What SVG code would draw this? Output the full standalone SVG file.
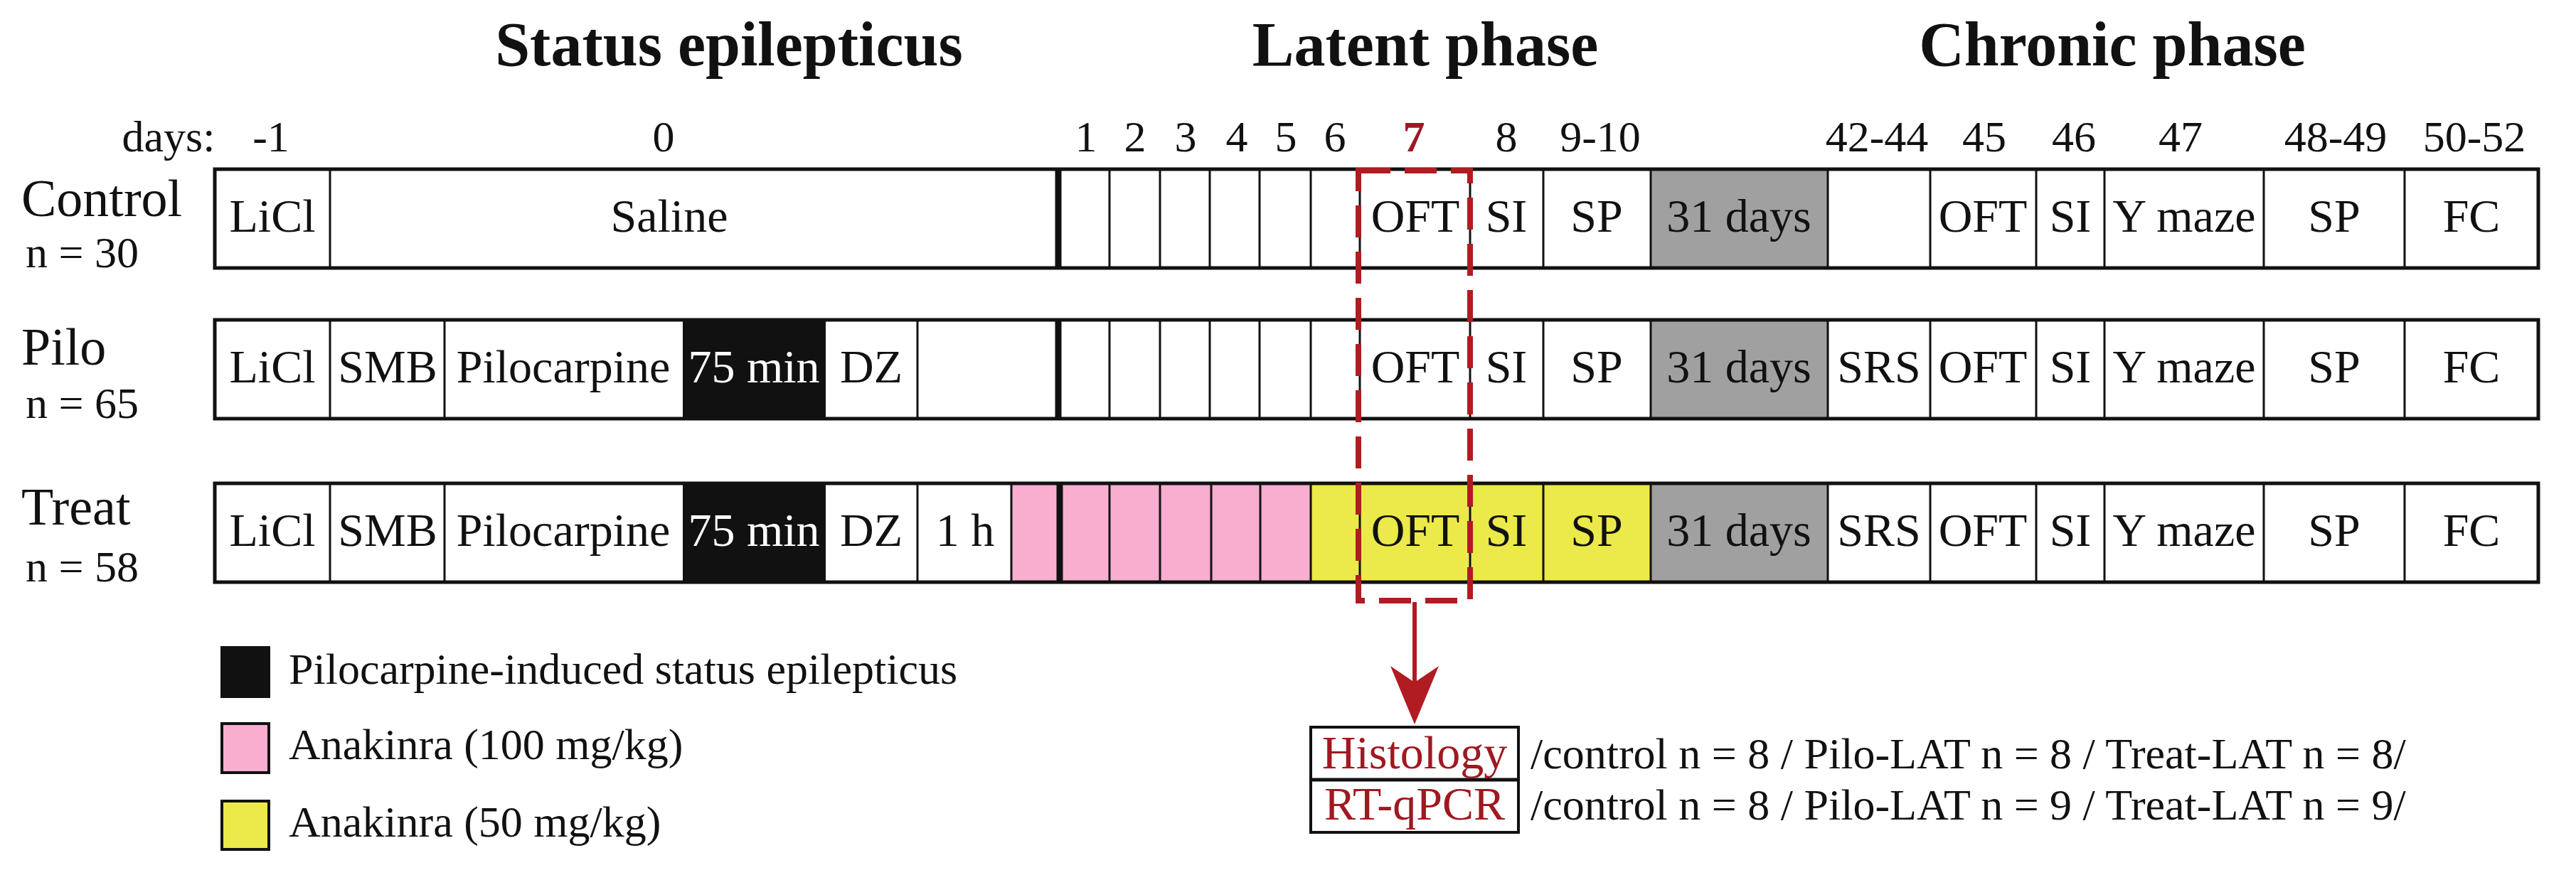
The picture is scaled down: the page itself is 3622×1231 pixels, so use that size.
<svg xmlns="http://www.w3.org/2000/svg" width="3622" height="1231" viewBox="0 0 3622 1231">
<style>
text{font-family:"Liberation Serif","Times New Roman",serif;fill:#111}
.t{font-size:88px;font-weight:bold;text-anchor:middle}
.d{font-size:62px;text-anchor:middle}
.g{font-size:74px}
.n{font-size:62px}
.c{font-size:66px;text-anchor:middle}
.w{fill:#fff}
.cell{stroke:#111;stroke-width:3}
.out{fill:none;stroke:#111;stroke-width:5}
.thick{stroke:#111;stroke-width:9}
.red{fill:#a01820}
.lg{font-size:62px}
</style>
<g id="titles">
<text class="t" x="1025" y="92">Status epilepticus</text>
<text class="t" x="2004" y="92">Latent phase</text>
<text class="t" x="2970" y="92">Chronic phase</text>
</g>
<g id="days">
<text class="d" x="237" y="213">days:</text>
<text class="d" x="381" y="213">-1</text>
<text class="d" x="933" y="213">0</text>
<text class="d" x="1527" y="213">1</text>
<text class="d" x="1596" y="213">2</text>
<text class="d" x="1667" y="213">3</text>
<text class="d" x="1739" y="213">4</text>
<text class="d" x="1808" y="213">5</text>
<text class="d" x="1877" y="213">6</text>
<text class="d" x="1988" y="213" style="fill:#a01820;font-weight:bold">7</text>
<text class="d" x="2118" y="213">8</text>
<text class="d" x="2250" y="213">9-10</text>
<text class="d" x="2639" y="213">42-44</text>
<text class="d" x="2790" y="213">45</text>
<text class="d" x="2916" y="213">46</text>
<text class="d" x="3066" y="213">47</text>
<text class="d" x="3284" y="213">48-49</text>
<text class="d" x="3479" y="213">50-52</text>
</g>
<g id="control">
<text class="g" x="30" y="304">Control</text>
<text class="n" x="36" y="376">n = 30</text>
<rect x="302" y="238" width="3267" height="139" fill="#fff"/>
<rect x="2321" y="238" width="249" height="139" fill="#a0a0a0"/>
<g class="cell">
<line x1="464" y1="238" x2="464" y2="377"/>
<line x1="1560" y1="238" x2="1560" y2="377"/><line x1="1631" y1="238" x2="1631" y2="377"/><line x1="1701" y1="238" x2="1701" y2="377"/><line x1="1771" y1="238" x2="1771" y2="377"/><line x1="1843" y1="238" x2="1843" y2="377"/><line x1="1912" y1="238" x2="1912" y2="377"/>
<line x1="2067" y1="238" x2="2067" y2="377"/><line x1="2170" y1="238" x2="2170" y2="377"/><line x1="2321" y1="238" x2="2321" y2="377"/><line x1="2570" y1="238" x2="2570" y2="377"/><line x1="2714" y1="238" x2="2714" y2="377"/><line x1="2863" y1="238" x2="2863" y2="377"/><line x1="2959" y1="238" x2="2959" y2="377"/><line x1="3183" y1="238" x2="3183" y2="377"/><line x1="3381" y1="238" x2="3381" y2="377"/>
</g>
<line class="thick" x1="1488" y1="238" x2="1488" y2="377"/>
<rect class="out" x="302" y="238" width="3267" height="139"/>
<text class="c" x="383" y="326">LiCl</text>
<text class="c" x="941" y="326">Saline</text>
<text class="c" x="1990" y="326">OFT</text>
<text class="c" x="2118" y="326">SI</text>
<text class="c" x="2245" y="326">SP</text>
<text class="c" x="2445" y="326">31 days</text>
<text class="c" x="2788" y="326">OFT</text>
<text class="c" x="2911" y="326">SI</text>
<text class="c" x="3071" y="326">Y maze</text>
<text class="c" x="3282" y="326">SP</text>
<text class="c" x="3475" y="326">FC</text>
</g>
<g id="pilo">
<text class="g" x="30" y="513">Pilo</text>
<text class="n" x="36" y="588">n = 65</text>
<rect x="302" y="450" width="3267" height="139" fill="#fff"/>
<rect x="960" y="450" width="201" height="139" fill="#111"/>
<rect x="2321" y="450" width="249" height="139" fill="#a0a0a0"/>
<g class="cell">
<line x1="464" y1="450" x2="464" y2="589"/><line x1="625" y1="450" x2="625" y2="589"/><line x1="1290" y1="450" x2="1290" y2="589"/>
<line x1="1560" y1="450" x2="1560" y2="589"/><line x1="1631" y1="450" x2="1631" y2="589"/><line x1="1701" y1="450" x2="1701" y2="589"/><line x1="1771" y1="450" x2="1771" y2="589"/><line x1="1843" y1="450" x2="1843" y2="589"/><line x1="1912" y1="450" x2="1912" y2="589"/>
<line x1="2067" y1="450" x2="2067" y2="589"/><line x1="2170" y1="450" x2="2170" y2="589"/><line x1="2321" y1="450" x2="2321" y2="589"/><line x1="2570" y1="450" x2="2570" y2="589"/><line x1="2714" y1="450" x2="2714" y2="589"/><line x1="2863" y1="450" x2="2863" y2="589"/><line x1="2959" y1="450" x2="2959" y2="589"/><line x1="3183" y1="450" x2="3183" y2="589"/><line x1="3381" y1="450" x2="3381" y2="589"/>
</g>
<line class="thick" x1="1488" y1="450" x2="1488" y2="589"/>
<rect class="out" x="302" y="450" width="3267" height="139"/>
<text class="c" x="383" y="538">LiCl</text>
<text class="c" x="545" y="538">SMB</text>
<text class="c" x="792" y="538">Pilocarpine</text>
<text class="c w" x="1060" y="538">75 min</text>
<text class="c" x="1225" y="538">DZ</text>
<text class="c" x="1990" y="538">OFT</text>
<text class="c" x="2118" y="538">SI</text>
<text class="c" x="2245" y="538">SP</text>
<text class="c" x="2445" y="538">31 days</text>
<text class="c" x="2642" y="538">SRS</text>
<text class="c" x="2788" y="538">OFT</text>
<text class="c" x="2911" y="538">SI</text>
<text class="c" x="3071" y="538">Y maze</text>
<text class="c" x="3282" y="538">SP</text>
<text class="c" x="3475" y="538">FC</text>
</g>
<g id="treat">
<text class="g" x="30" y="738">Treat</text>
<text class="n" x="36" y="818">n = 58</text>
<rect x="302" y="680" width="3267" height="139" fill="#fff"/>
<rect x="960" y="680" width="201" height="139" fill="#111"/>
<rect x="1422" y="680" width="421" height="139" fill="#f9aed0"/>
<rect x="1843" y="680" width="478" height="139" fill="#ece94a"/>
<rect x="2321" y="680" width="249" height="139" fill="#a0a0a0"/>
<g class="cell">
<line x1="464" y1="680" x2="464" y2="819"/><line x1="625" y1="680" x2="625" y2="819"/><line x1="1290" y1="680" x2="1290" y2="819"/><line x1="1422" y1="680" x2="1422" y2="819"/>
<line x1="1560" y1="680" x2="1560" y2="819"/><line x1="1631" y1="680" x2="1631" y2="819"/><line x1="1703" y1="680" x2="1703" y2="819"/><line x1="1772" y1="680" x2="1772" y2="819"/><line x1="1843" y1="680" x2="1843" y2="819"/><line x1="1912" y1="680" x2="1912" y2="819"/>
<line x1="2067" y1="680" x2="2067" y2="819"/><line x1="2170" y1="680" x2="2170" y2="819"/><line x1="2321" y1="680" x2="2321" y2="819"/><line x1="2570" y1="680" x2="2570" y2="819"/><line x1="2714" y1="680" x2="2714" y2="819"/><line x1="2863" y1="680" x2="2863" y2="819"/><line x1="2959" y1="680" x2="2959" y2="819"/><line x1="3183" y1="680" x2="3183" y2="819"/><line x1="3381" y1="680" x2="3381" y2="819"/>
</g>
<line class="thick" x1="1490" y1="680" x2="1490" y2="819"/>
<rect class="out" x="302" y="680" width="3267" height="139"/>
<text class="c" x="383" y="768">LiCl</text>
<text class="c" x="545" y="768">SMB</text>
<text class="c" x="792" y="768">Pilocarpine</text>
<text class="c w" x="1060" y="768">75 min</text>
<text class="c" x="1225" y="768">DZ</text>
<text class="c" x="1357" y="768">1 h</text>
<text class="c" x="1990" y="768">OFT</text>
<text class="c" x="2118" y="768">SI</text>
<text class="c" x="2245" y="768">SP</text>
<text class="c" x="2445" y="768">31 days</text>
<text class="c" x="2642" y="768">SRS</text>
<text class="c" x="2788" y="768">OFT</text>
<text class="c" x="2911" y="768">SI</text>
<text class="c" x="3071" y="768">Y maze</text>
<text class="c" x="3282" y="768">SP</text>
<text class="c" x="3475" y="768">FC</text>
</g>
<g id="connectors">
<rect x="1910" y="240" width="157" height="605" fill="none" stroke="#b01c22" stroke-width="8" stroke-dasharray="45,20"/>
<line x1="1989" y1="847" x2="1989" y2="960" stroke="#b01c22" stroke-width="6"/>
<path d="M1955,937 L1989,960 L2023,937 L1989,1019 Z" fill="#b01c22"/>
</g>
<g id="analysis">
<rect x="1843" y="1023" width="292" height="148" fill="#fff" stroke="#111" stroke-width="4"/>
<line x1="1843" y1="1097" x2="2135" y2="1097" stroke="#111" stroke-width="5"/>
<text class="c red" x="1989" y="1081">Histology</text>
<text class="c red" x="1989" y="1153">RT-qPCR</text>
<text class="lg" x="2152" y="1081">/control n = 8 / Pilo-LAT n = 8 / Treat-LAT n = 8/</text>
<text class="lg" x="2152" y="1153">/control n = 8 / Pilo-LAT n = 9 / Treat-LAT n = 9/</text>
</g>
<g id="legend">
<rect x="310" y="909" width="70" height="73" fill="#111"/>
<text class="lg" x="406" y="962">Pilocarpine-induced status epilepticus</text>
<rect x="312" y="1018" width="66" height="69" fill="#f9aed0" stroke="#111" stroke-width="4"/>
<text class="lg" x="406" y="1068">Anakinra (100 mg/kg)</text>
<rect x="312" y="1127" width="66" height="68" fill="#ece94a" stroke="#111" stroke-width="4"/>
<text class="lg" x="406" y="1177">Anakinra (50 mg/kg)</text>
</g>
</svg>
